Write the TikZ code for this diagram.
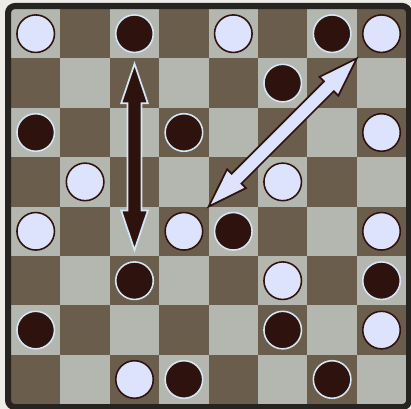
\documentclass[tikz,border=0pt]{standalone}
\usepackage{tikz}
\usetikzlibrary{calc}

\definecolor{fondpage}{HTML}{EEECE7}
\definecolor{caseclaire}{HTML}{B3B7AF}
\definecolor{casefoncee}{HTML}{6B5D4B}
\definecolor{cadre}{HTML}{262420}
\definecolor{pionclair}{HTML}{DDE3FD}
\definecolor{pionfonce}{HTML}{2E120D}
\definecolor{bordclair}{HTML}{D5E6F5}

\tikzset{
  pionblanc/.style={fill=pionclair, draw=pionfonce, line width=0.9pt},
  pionnoir/.style={fill=pionfonce, draw=bordclair, line width=0.9pt},
}

% Fleche double le long de l'axe x, longueur #1
\newcommand{\flechedouble}[2]{%
  \path[#2, line join=miter] (0,0) -- (0.8,0.27) -- (0.8,0.14) -- (#1-0.8,0.14) -- (#1-0.8,0.27)
    -- (#1,0) -- (#1-0.8,-0.27) -- (#1-0.8,-0.14) -- (0.8,-0.14) -- (0.8,-0.27) -- cycle;}

\begin{document}
\begin{tikzpicture}
        \useasboundingbox (-0.223,-0.097) rectangle (8.097,8.182);
        \fill[fondpage] (-0.223,-0.097) rectangle (8.097,8.182);

        % Cases
        \foreach \i in {0,...,7} {
          \foreach \j in {0,...,7} {
            \pgfmathtruncatemacro{\parite}{mod(\i+\j,2)}
            \ifnum\parite=1
              \fill[caseclaire] (\i,\j) rectangle ++(1,1);
            \else
              \fill[casefoncee] (\i,\j) rectangle ++(1,1);
            \fi
          }
        }

        % Cadre
        \draw[cadre, line width=3.5pt, rounded corners=4pt] (-0.06,-0.06) rectangle (8.06,8.06);

        % Pions blancs (colonne, ligne depuis le haut)
        \foreach \c/\r in {0/0,4/0,7/0,7/2,1/3,5/3,0/4,3/4,7/4,5/5,7/6,2/7}
          \draw[pionblanc] (\c+0.5,7.5-\r) circle (0.38);

        % Pions noirs
        \foreach \c/\r in {2/0,6/0,5/1,0/2,3/2,4/4,2/5,7/5,0/6,5/6,3/7,6/7}
          \draw[pionnoir] (\c+0.5,7.5-\r) circle (0.38);

        % Fleches
        \begin{scope}[shift={(2.5,3.12)}, rotate=90]
          \flechedouble{3.77}{fill=pionfonce, draw=bordclair, line width=1pt}
        \end{scope}
        \begin{scope}[shift={(4,4)}, rotate=45]
          \flechedouble{4.243}{fill=pionclair, draw=pionfonce, line width=1pt}
        \end{scope}
    \end{tikzpicture}
\end{document}
